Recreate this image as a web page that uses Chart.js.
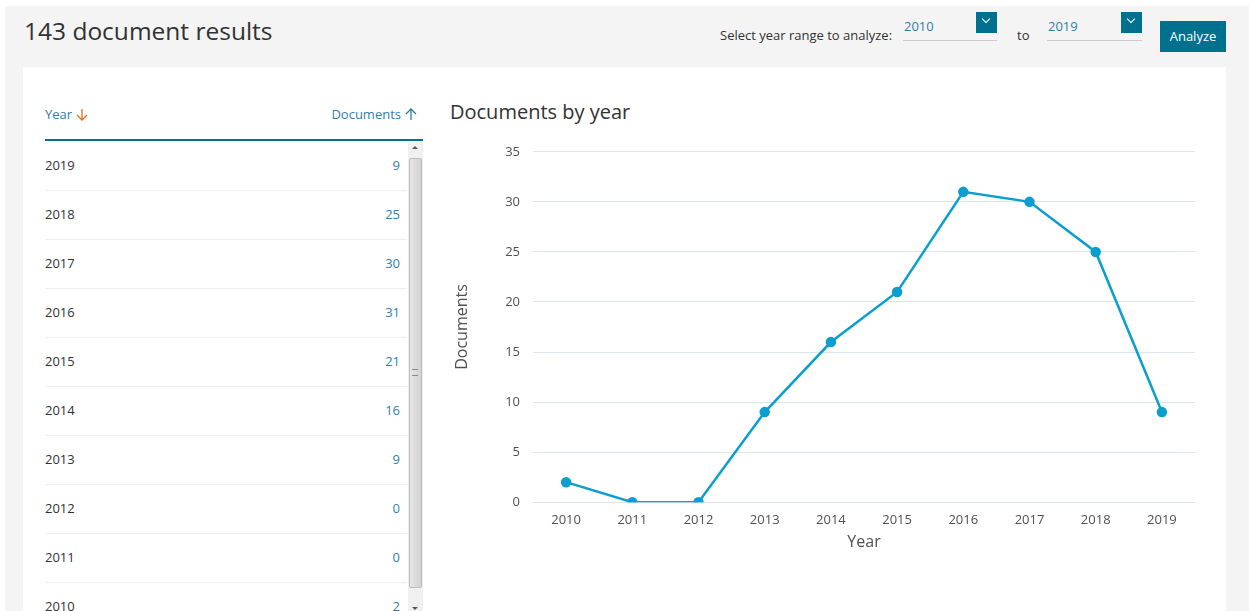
<!DOCTYPE html>
<html>
<head>
<meta charset="utf-8">
<script src="https://cdn.jsdelivr.net/npm/chart.js@4"></script>
<style>
body { margin:0; width:1249px; height:611px; overflow:hidden; background:#fff; font-family:"Open Sans", sans-serif; }
.page { position:absolute; left:5px; top:6px; width:1244px; height:605px; background:#f4f4f4; }
.title { position:absolute; left:24px; top:14px; font-size:24.5px; color:#323232; }
.panel { position:absolute; left:23px; top:67px; width:1203px; height:544px; background:#fff; }
.lbl { position:absolute; font-size:13px; color:#323232; }
.sel { position:absolute; top:17px; font-size:13px; color:#2e7faa; border-bottom:1px solid #ccc; height:23px; }
.sel .box { position:absolute; right:0; top:-5px; width:21px; height:21px; background:#00708f; }
.sel .box:after { content:""; position:absolute; left:7px; top:4px; width:5px; height:5px; border-right:1.5px solid #fff; border-bottom:1.5px solid #fff; transform:rotate(45deg); }
.btn { position:absolute; left:1160px; top:21px; width:66px; height:31px; background:#00708f; color:#fff; font-size:13px; line-height:31px; text-align:center; }
.th { position:absolute; top:105px; font-size:13px; color:#2e7faa; }
.th svg { vertical-align:-2px; margin-left:4px; }
.row { position:absolute; left:45px; width:362px; height:49px; border-bottom:1px solid #eee; font-size:13px; }
.row .y { position:absolute; left:0; top:15px; color:#323232; }
.row .n { position:absolute; right:7px; top:15px; color:#2e7faa; }
.sb { position:absolute; left:408px; top:142px; width:15px; height:469px; background:#f0f0f0; }
.thumb { position:absolute; left:409px; top:158px; width:13px; height:430px; background:linear-gradient(to right,#e6e6e6,#d2d2d2); border:1px solid #bcbcbc; border-radius:2px; box-sizing:border-box; }
.ctitle { position:absolute; left:450px; top:98px; font-size:20px; color:#323232; }
#c { position:absolute; left:445px; top:131px; }
</style>
</head>
<body>
<div class="page"></div>
<div class="title">143 document results</div>
<div class="lbl" style="left:720px;top:26px;">Select year range to analyze:</div>
<div class="sel" style="left:903px;width:94px;"><span style="position:absolute;left:1px;top:0;">2010</span><div class="box"></div></div>
<div class="lbl" style="left:1017px;top:26px;">to</div>
<div class="sel" style="left:1047px;width:95px;"><span style="position:absolute;left:1px;top:0;">2019</span><div class="box"></div></div>
<div class="btn">Analyze</div>
<div class="panel"></div>
<div class="th" style="left:45px;">Year<svg width="12" height="13" viewBox="0 0 12 13"><path d="M6 1 V12 M1 7 L6 12 L11 7" fill="none" stroke="#e9711c" stroke-width="1.3"/></svg></div>
<div class="th" style="right:832px;">Documents<svg width="12" height="13" viewBox="0 0 12 13"><path d="M6 12 V1 M1 6 L6 1 L11 6" fill="none" stroke="#2e7faa" stroke-width="1.3"/></svg></div>
<div style="position:absolute;left:45px;top:139px;width:378px;height:2px;background:#00708f;"></div>
<div id="rows"></div>
<div class="sb"></div>
<div class="thumb"></div>
<div style="position:absolute;left:412px;top:146px;width:0;height:0;border-left:3px solid transparent;border-right:3px solid transparent;border-bottom:3px solid #555;"></div>
<div style="position:absolute;left:412px;top:607px;width:0;height:0;border-left:3px solid transparent;border-right:3px solid transparent;border-top:3px solid #555;"></div>
<div style="position:absolute;left:412px;top:369px;width:6px;height:5px;border-top:1px solid #888;border-bottom:1px solid #888;"></div>
<div class="ctitle">Documents by year</div>
<canvas id="c" width="760" height="421"></canvas>
<script>
const years = ["2010","2011","2012","2013","2014","2015","2016","2017","2018","2019"];
const counts = [2, 0, 0, 9, 16, 21, 31, 30, 25, 9];

// table, newest year first
let html = "";
for (let i = years.length - 1, k = 0; i >= 0; i--, k++) {
    html += '<div class="row" style="top:' + (141 + k*49) + 'px;"><span class="y">' + years[i] + '</span><span class="n">' + counts[i] + '</span></div>';
}
document.getElementById("rows").innerHTML = html;

const ctx = document.getElementById("c");
new Chart(ctx, {
    type: "line",
    data: {
        labels: years,
        datasets: [{
            label: "Documents",
            data: counts,
            borderColor: "#0a9fcf",
            backgroundColor: "#0a9fcf",
            borderWidth: 2.5,
            pointRadius: 4,
            pointHoverRadius: 4,
            fill: false,
            tension: 0
        }]
    },
    options: {
        responsive: false,
        animation: false,
        layout: { padding: { top: 8, right: 10, left: 4 } },
        scales: {
            x: {
                offset: true,
                grid: { display: false },
                border: { display: false },
                ticks: { color: "#505050", font: { size: 13, family: "Open Sans" }, padding: 2 },
                title: { display: true, text: "Year", color: "#505050", font: { size: 16, family: "Open Sans" }, padding: { top: 3, bottom: 0 } }
            },
            y: {
                min: 0,
                max: 35,
                afterFit: function(s) { s.width = 84; },
                grid: { color: "#dde3ea", drawTicks: false },
                border: { display: false },
                ticks: { stepSize: 5, color: "#505050", font: { size: 13, family: "Open Sans" }, padding: 13 },
                title: { display: true, text: "Documents", color: "#505050", font: { size: 16, family: "Open Sans" } }
            }
        },
        plugins: { legend: { display: false }, tooltip: { enabled: false } }
    }
});
</script>
</body>
</html>
